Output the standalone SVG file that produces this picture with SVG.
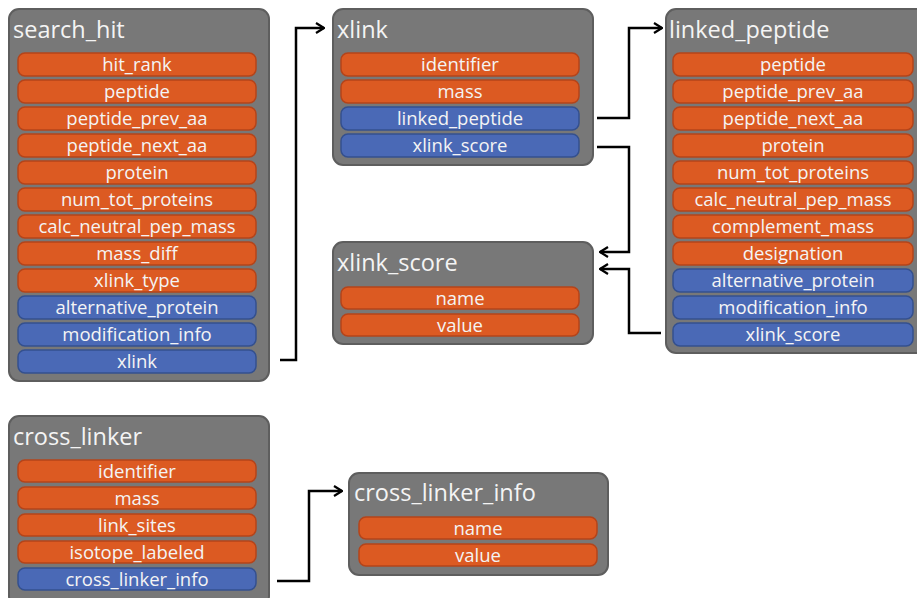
<svg xmlns="http://www.w3.org/2000/svg" width="917" height="598" viewBox="0 0 917 598">
<style>
.box{fill:#787878;stroke:#5e5e5e;stroke-width:2}
.o{fill:#dc5a22;stroke:#b4441a;stroke-width:1.5}
.b{fill:#4a69b6;stroke:#34508e;stroke-width:1.5}
.t{font-family:"Open Sans","Liberation Sans",sans-serif;font-size:23.5px;fill:#f4f4f4}
.f{font-family:"Open Sans","Liberation Sans",sans-serif;font-size:18.5px;fill:#f4f4f4;text-anchor:middle}
.c{fill:none;stroke:#000;stroke-width:2.5}
</style>
<defs>
<marker id="ah" viewBox="0 0 10 12" refX="9" refY="6" markerWidth="10" markerHeight="12" markerUnits="userSpaceOnUse" orient="auto">
<path d="M1,1 L9,6 L1,11" fill="none" stroke="#000" stroke-width="2.2"/>
</marker>
</defs>
<g id="connectors">
<path class="c" d="M280,360 H296 V28 H324" marker-end="url(#ah)"/>
<path class="c" d="M597,118 H629 V28 H662" marker-end="url(#ah)"/>
<path class="c" d="M597,147 H629 V252 H600" marker-end="url(#ah)"/>
<path class="c" d="M661,333 H629 V269 H600" marker-end="url(#ah)"/>
<path class="c" d="M277,581 H309 V491 H342" marker-end="url(#ah)"/>
</g>
<g id="search_hit">
<rect class="box" x="9" y="9" width="260" height="372" rx="10"/>
<text class="t" x="13" y="38">search_hit</text>
<rect class="o" x="18" y="53" width="238" height="23" rx="7"/><text class="f" x="137" y="71">hit_rank</text>
<rect class="o" x="18" y="80" width="238" height="23" rx="7"/><text class="f" x="137" y="98">peptide</text>
<rect class="o" x="18" y="107" width="238" height="23" rx="7"/><text class="f" x="137" y="125">peptide_prev_aa</text>
<rect class="o" x="18" y="134" width="238" height="23" rx="7"/><text class="f" x="137" y="152">peptide_next_aa</text>
<rect class="o" x="18" y="161" width="238" height="23" rx="7"/><text class="f" x="137" y="179">protein</text>
<rect class="o" x="18" y="188" width="238" height="23" rx="7"/><text class="f" x="137" y="206">num_tot_proteins</text>
<rect class="o" x="18" y="215" width="238" height="23" rx="7"/><text class="f" x="137" y="233">calc_neutral_pep_mass</text>
<rect class="o" x="18" y="242" width="238" height="23" rx="7"/><text class="f" x="137" y="260">mass_diff</text>
<rect class="o" x="18" y="269" width="238" height="23" rx="7"/><text class="f" x="137" y="287">xlink_type</text>
<rect class="b" x="18" y="296" width="238" height="23" rx="7"/><text class="f" x="137" y="314">alternative_protein</text>
<rect class="b" x="18" y="323" width="238" height="23" rx="7"/><text class="f" x="137" y="341">modification_info</text>
<rect class="b" x="18" y="350" width="238" height="23" rx="7"/><text class="f" x="137" y="368">xlink</text>
</g>
<g id="xlink">
<rect class="box" x="333" y="9" width="260" height="156" rx="10"/>
<text class="t" x="337" y="38">xlink</text>
<rect class="o" x="341" y="53" width="238" height="23" rx="7"/><text class="f" x="460" y="71">identifier</text>
<rect class="o" x="341" y="80" width="238" height="23" rx="7"/><text class="f" x="460" y="98">mass</text>
<rect class="b" x="341" y="107" width="238" height="23" rx="7"/><text class="f" x="460" y="125">linked_peptide</text>
<rect class="b" x="341" y="134" width="238" height="23" rx="7"/><text class="f" x="460" y="152">xlink_score</text>
</g>
<g id="xlink_score">
<rect class="box" x="333" y="242" width="260" height="102" rx="10"/>
<text class="t" x="337" y="271">xlink_score</text>
<rect class="o" x="341" y="287" width="238" height="22" rx="7"/><text class="f" x="460" y="305">name</text>
<rect class="o" x="341" y="314" width="238" height="22" rx="7"/><text class="f" x="460" y="332">value</text>
</g>
<g id="linked_peptide">
<rect class="box" x="666" y="9" width="260" height="344" rx="10"/>
<text class="t" x="669" y="38">linked_peptide</text>
<rect class="o" x="673" y="53" width="240" height="23" rx="7"/><text class="f" x="793" y="71">peptide</text>
<rect class="o" x="673" y="80" width="240" height="23" rx="7"/><text class="f" x="793" y="98">peptide_prev_aa</text>
<rect class="o" x="673" y="107" width="240" height="23" rx="7"/><text class="f" x="793" y="125">peptide_next_aa</text>
<rect class="o" x="673" y="134" width="240" height="23" rx="7"/><text class="f" x="793" y="152">protein</text>
<rect class="o" x="673" y="161" width="240" height="23" rx="7"/><text class="f" x="793" y="179">num_tot_proteins</text>
<rect class="o" x="673" y="188" width="240" height="23" rx="7"/><text class="f" x="793" y="206">calc_neutral_pep_mass</text>
<rect class="o" x="673" y="215" width="240" height="23" rx="7"/><text class="f" x="793" y="233">complement_mass</text>
<rect class="o" x="673" y="242" width="240" height="23" rx="7"/><text class="f" x="793" y="260">designation</text>
<rect class="b" x="673" y="269" width="240" height="23" rx="7"/><text class="f" x="793" y="287">alternative_protein</text>
<rect class="b" x="673" y="296" width="240" height="23" rx="7"/><text class="f" x="793" y="314">modification_info</text>
<rect class="b" x="673" y="323" width="240" height="23" rx="7"/><text class="f" x="793" y="341">xlink_score</text>
</g>
<g id="cross_linker">
<rect class="box" x="9" y="416" width="260" height="190" rx="10"/>
<text class="t" x="13" y="445">cross_linker</text>
<rect class="o" x="18" y="460" width="238" height="22" rx="7"/><text class="f" x="137" y="478">identifier</text>
<rect class="o" x="18" y="487" width="238" height="22" rx="7"/><text class="f" x="137" y="505">mass</text>
<rect class="o" x="18" y="514" width="238" height="22" rx="7"/><text class="f" x="137" y="532">link_sites</text>
<rect class="o" x="18" y="541" width="238" height="22" rx="7"/><text class="f" x="137" y="559">isotope_labeled</text>
<rect class="b" x="18" y="568" width="238" height="22" rx="7"/><text class="f" x="137" y="586">cross_linker_info</text>
</g>
<g id="cross_linker_info">
<rect class="box" x="349" y="473" width="259" height="102" rx="10"/>
<text class="t" x="354" y="501">cross_linker_info</text>
<rect class="o" x="359" y="517" width="238" height="22" rx="7"/><text class="f" x="478" y="535">name</text>
<rect class="o" x="359" y="544" width="238" height="22" rx="7"/><text class="f" x="478" y="562">value</text>
</g>
</svg>
